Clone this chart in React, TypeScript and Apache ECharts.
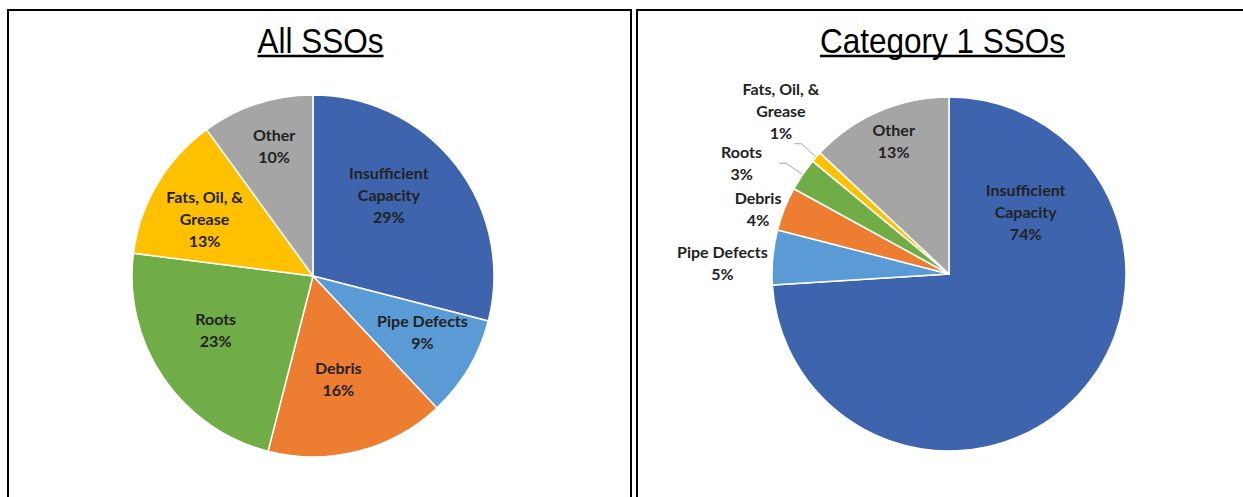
import React, { useEffect, useRef } from 'react';
import * as echarts from 'echarts';

// ---- data ----
const categories = ['Insufficient Capacity', 'Pipe Defects', 'Debris', 'Roots', 'Fats, Oil, & Grease', 'Other'];
const categoryLines = [['Insufficient', 'Capacity'], ['Pipe Defects'], ['Debris'], ['Roots'], ['Fats, Oil, &', 'Grease'], ['Other']];
const allSSOs = [29, 9, 16, 23, 13, 10];
const category1SSOs = [74, 5, 4, 3, 1, 13];
const titles = ['All SSOs', 'Category 1 SSOs'];
const sliceColors = ['#3F64AE', '#5B9BD5', '#ED7D31', '#70AD47', '#FFC000', '#A5A5A5'];

// ---- layout / style ----
const W = 1243;
const H = 497;
const leftPie = { cx: 313, cy: 276, r: 181 };
const rightPie = { cx: 949, cy: 274, r: 177 };
const titleFontSize = 35;
const titleScaleX = 0.9;
const titleCenters = [320.5, 942.5];
const titleMidY = 40.6;
const underlineY = 56;
// label nudges (dx, dy) relative to library default placement
const leftNudges = [[2, -24], [29, 8], [2, 12], [-20, 1], [-28, -10], [-10, -42]];
const rightNudges = [[10, -125], [-2, 5], [0, 0], [-14, -1], [28, -33], [-19, -50]];
const rightOutside = [false, true, true, true, true, false];
const rightLine = [false, false, false, true, true, false];

const labelFont = 'Lato, "Open Sans", sans-serif';

function formatLabel(idx: number, value: number) {
  const lines = [...categoryLines[idx], value + '%'];
  return lines.map((l) => '{a|' + l + '}').join('\n');
}

const richStyle = {
  a: {
    fontFamily: labelFont,
    fontWeight: 'bold' as const,
    fontSize: 16,
    lineHeight: 22,
    color: '#222222',
    align: 'center' as const,
  },
};

function measure(text: string, font: string) {
  const c = document.createElement('canvas');
  const ctx = c.getContext('2d');
  if (!ctx) return text.length * 18;
  ctx.font = font;
  return ctx.measureText(text).width;
}

export default function App() {
  const ref = useRef<HTMLDivElement>(null);

  useEffect(() => {
    if (!ref.current) return;
    const chart = echarts.init(ref.current, undefined, { renderer: 'svg' });
    const titleFont = titleFontSize + 'px "Liberation Sans", Arial, sans-serif';

    const graphics: any[] = [
      {
        type: 'rect',
        shape: { x: 8, y: 10, width: 623, height: 540 },
        style: { fill: 'none', stroke: '#000', lineWidth: 2 },
        silent: true,
      },
      {
        type: 'rect',
        shape: { x: 637, y: 10, width: 640, height: 540 },
        style: { fill: 'none', stroke: '#000', lineWidth: 2 },
        silent: true,
      },
    ];
    titles.forEach((t, i) => {
      const w = measure(t, titleFont) * titleScaleX;
      graphics.push({
        type: 'text',
        x: titleCenters[i],
        y: titleMidY,
        scaleX: titleScaleX,
        style: { text: t, font: titleFont, fill: '#000', align: 'center', verticalAlign: 'middle' },
        silent: true,
      });
      graphics.push({
        type: 'line',
        shape: { x1: titleCenters[i] - w / 2, y1: underlineY, x2: titleCenters[i] + w / 2, y2: underlineY },
        style: { stroke: '#000', lineWidth: 2.5 },
        silent: true,
      });
    });

    const leftData = categories.map((name, i) => ({
      name,
      value: allSSOs[i],
      itemStyle: { color: sliceColors[i] },
    }));
    const rightData = categories.map((name, i) => ({
      name,
      value: category1SSOs[i],
      itemStyle: { color: sliceColors[i] },
      label: { position: rightOutside[i] ? 'outside' : 'inside' },
      labelLine: {
        show: rightLine[i],
        length: rightLine[i] ? 20 : 0,
        length2: rightLine[i] ? 7 : 0,
      },
    }));

    chart.setOption({
      animation: false,
      graphic: graphics,
      series: [
        {
          type: 'pie',
          center: [leftPie.cx, leftPie.cy],
          radius: leftPie.r,
          startAngle: 90,
          clockwise: true,
          data: leftData,
          itemStyle: { borderColor: '#ffffff', borderWidth: 1.5 },
          label: {
            show: true,
            position: 'inside',
            formatter: (p: any) => formatLabel(p.dataIndex, p.value),
            rich: richStyle,
          },
          labelLine: { show: false },
          labelLayout: (p: any) => ({ dx: leftNudges[p.dataIndex][0], dy: leftNudges[p.dataIndex][1] }),
          emphasis: { disabled: true },
        },
        {
          type: 'pie',
          center: [rightPie.cx, rightPie.cy],
          radius: rightPie.r,
          startAngle: 90,
          clockwise: true,
          avoidLabelOverlap: false,
          data: rightData,
          itemStyle: { borderColor: '#ffffff', borderWidth: 1.5 },
          label: {
            show: true,
            formatter: (p: any) => formatLabel(p.dataIndex, p.value),
            rich: richStyle,
            distanceToLabelLine: 3,
          },
          labelLine: { lineStyle: { color: '#A6A6A6', width: 1 } },
          labelLayout: (p: any) => ({ dx: rightNudges[p.dataIndex][0], dy: rightNudges[p.dataIndex][1] }),
          emphasis: { disabled: true },
        },
      ],
    });
    return () => chart.dispose();
  }, []);

  return <div ref={ref} style={{ position: 'absolute', left: 0, top: 0, width: W, height: H, background: '#fff' }} />;
}
